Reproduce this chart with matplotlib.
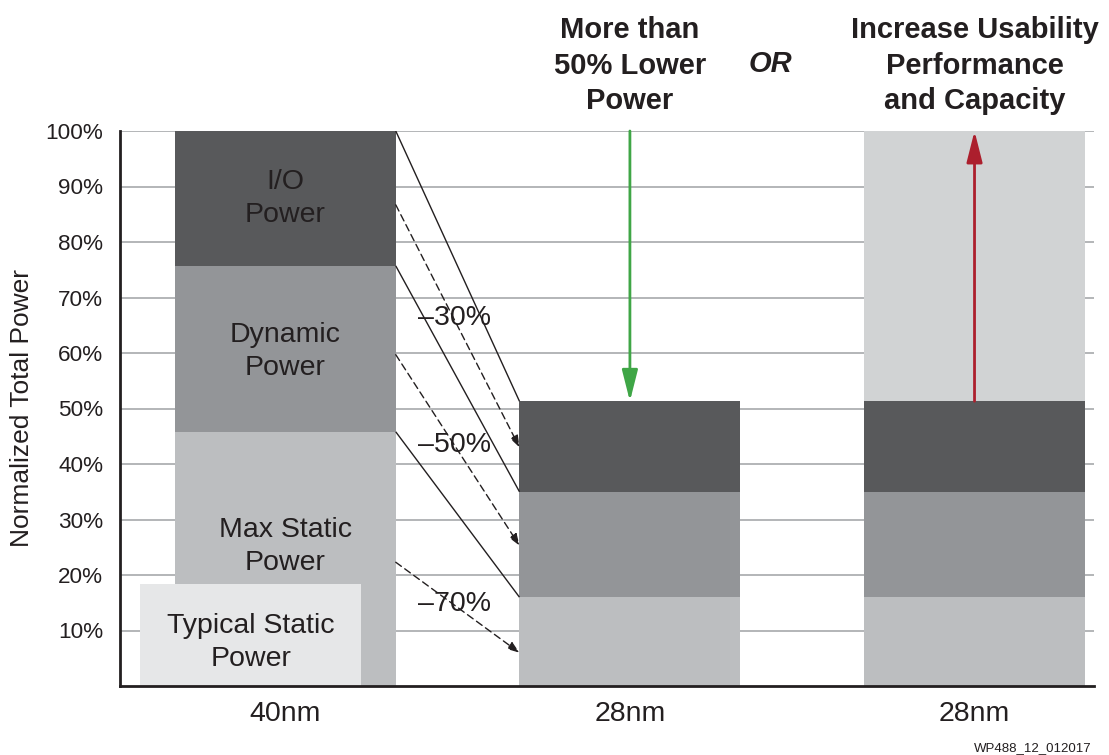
import matplotlib
matplotlib.use("Agg")
import matplotlib.pyplot as plt
import numpy as np

plt.rcParams['font.family'] = ['Liberation Sans', 'DejaVu Sans']

# ---- data ----
categories = ["40nm", "28nm", "28nm"]
static_power = [45.8, 16.0, 16.0]
dynamic_power = [29.9, 19.0, 19.0]
io_power = [24.3, 16.3, 16.3]
headroom = [0.0, 0.0, 48.7]
typical_static = 18.4
y_ticks = [10, 20, 30, 40, 50, 60, 70, 80, 90, 100]
y_tick_labels = ["10%", "20%", "30%", "40%", "50%", "60%", "70%", "80%", "90%", "100%"]
dashed_start = [86.7, 59.7, 22.3]
dashed_end = [43.0, 25.3, 6.0]
reduction_labels = ["\u201330%", "\u201350%", "\u201370%"]
reduction_label_y = [66.3, 43.5, 14.7]
segment_labels = ["Max Static\nPower", "Dynamic\nPower", "I/O\nPower"]
segment_label_y = [25.2, 60.2, 87.8]

C_IO = "#58595b"
C_DYN = "#939598"
C_STAT = "#bcbec0"
C_HEAD = "#d1d3d4"
C_TYP = "#e6e7e8"
C_GRID = "#a7a9ac"
C_TXT = "#231f20"

FS = 20.5
W, H = 1109, 755
fig = plt.figure(figsize=(W / 100, H / 100), dpi=100)
ax = fig.add_axes([120 / W, 1 - 686 / H, (1094 - 120) / W, (686 - 131) / H])

x = np.arange(len(categories))
bw = 0.641
static_power = np.array(static_power)
dynamic_power = np.array(dynamic_power)
io_power = np.array(io_power)
headroom = np.array(headroom)

b1 = static_power
b2 = b1 + dynamic_power
b3 = b2 + io_power

ax.bar(x, static_power, bw, color=C_STAT, zorder=2)
ax.bar(x, dynamic_power, bw, bottom=b1, color=C_DYN, zorder=2)
ax.bar(x, io_power, bw, bottom=b2, color=C_IO, zorder=2)
ax.bar(x, headroom, bw, bottom=b3, color=C_HEAD, zorder=2)
# typical static power box
ax.bar([x[0] - 0.10], [typical_static], bw, color=C_TYP, zorder=3)

ax.set_xlim(-0.4797, 2.3467)
ax.set_ylim(0, 100)
ax.set_yticks(y_ticks)
ax.set_yticklabels(y_tick_labels)
ax.set_xticks(x)
ax.set_xticklabels(categories)
ax.tick_params(axis='y', length=0, pad=12, labelsize=16.2, colors=C_TXT)
ax.tick_params(axis='x', length=0, pad=11, labelsize=FS, colors=C_TXT)
ax.yaxis.grid(True, color=C_GRID, linewidth=1.2, zorder=1)
ax.set_axisbelow(True)
for s in ['top', 'right']:
    ax.spines[s].set_visible(False)
for s in ['left', 'bottom']:
    ax.spines[s].set_linewidth(2.0)
    ax.spines[s].set_color(C_TXT)
    ax.spines[s].set_zorder(5)

LS = 1.35
# segment labels on 40nm bar
for lab, yy in zip(segment_labels, segment_label_y):
    ax.text(x[0], yy, lab, ha='center', va='center', fontsize=FS, color=C_TXT,
            linespacing=LS, zorder=4)
ax.text(x[0] - 0.10, 7.9, "Typical Static\nPower", ha='center', va='center',
        fontsize=FS, color=C_TXT, linespacing=LS, zorder=4)

# reduction lines
xs = x[0] + bw / 2
xe = x[1] - bw / 2
starts = [b3[0], b2[0], b1[0]]
ends = [b3[1], b2[1], b1[1]]
for ys, ye in zip(starts, ends):
    ax.plot([xs, xe], [ys, ye], color=C_TXT, linewidth=1.0, zorder=4,
            solid_capstyle='butt')
for ys, ye in zip(dashed_start, dashed_end):
    ax.annotate("", xy=(xe, ye), xytext=(xs, ys),
                arrowprops=dict(arrowstyle="-|>,head_length=0.7,head_width=0.25",
                                color=C_TXT, linewidth=1.0, linestyle=(0, (5, 3)),
                                shrinkA=0, shrinkB=0), zorder=4)
for lab, yy in zip(reduction_labels, reduction_label_y):
    ax.text(0.385, yy, lab, ha='left', va='center', fontsize=FS, color=C_TXT, zorder=4)

# green and red arrows
ax.annotate("", xy=(x[1], b3[1]), xytext=(x[1], 100),
            arrowprops=dict(arrowstyle="-|>,head_length=1.9,head_width=0.48",
                            color="#3fa646", linewidth=2.0, shrinkA=0, shrinkB=0),
            zorder=6)
ax.annotate("", xy=(x[2], 100), xytext=(x[2], b3[2]),
            arrowprops=dict(arrowstyle="-|>,head_length=1.9,head_width=0.48",
                            color="#ac1f2d", linewidth=2.0, shrinkA=0, shrinkB=0),
            zorder=6)

# header texts
HY = 111.8
ax.text(x[1], HY, "More than\n50% Lower\nPower", ha='center', va='center',
        fontsize=21, fontweight='bold', color=C_TXT, linespacing=1.34, clip_on=False)
ax.text(1.407, 112.0, "OR", ha='center', va='center', fontsize=21,
        fontweight='bold', fontstyle='italic', color=C_TXT, clip_on=False)
ax.text(x[2], HY, "Increase Usability\nPerformance\nand Capacity", ha='center',
        va='center', fontsize=21, fontweight='bold', color=C_TXT, linespacing=1.34,
        clip_on=False)

fig.text(22 / W, 1 - 408 / H, "Normalized Total Power", rotation=90, ha='center',
         va='center', fontsize=19, color=C_TXT)
fig.text(1092 / W, 1 - 748 / H, "WP488_12_012017", ha='right', va='center',
         fontsize=9.5, color=C_TXT)

fig.savefig("out.png", dpi=100)
